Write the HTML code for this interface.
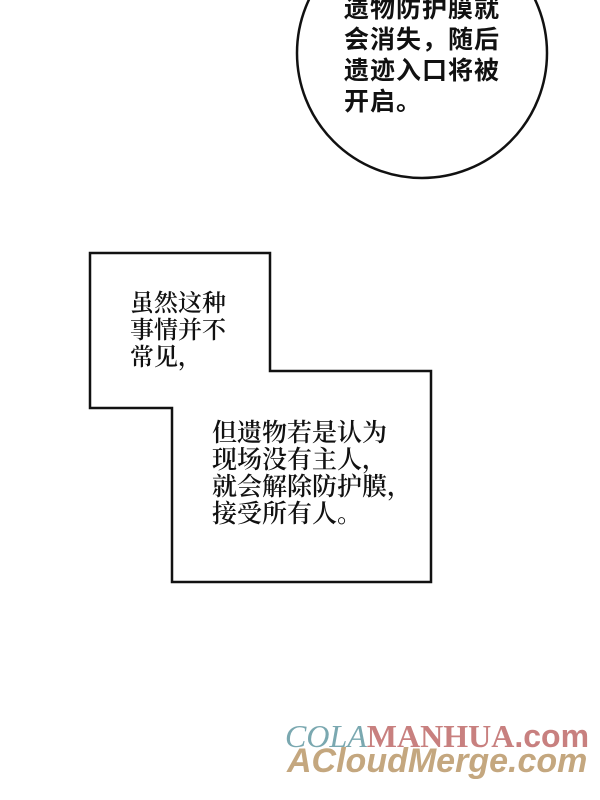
<!DOCTYPE html>
<html><head><meta charset="utf-8"><style>
body{margin:0;width:600px;height:800px;background:#fff;position:relative;overflow:hidden}
.t{position:absolute;white-space:nowrap}
.c{font-family:"Liberation Sans","Noto Sans CJK SC",sans-serif;font-size:25px;line-height:31px;font-weight:bold;color:#111;left:344px;top:-6px;letter-spacing:1px}
.s{font-family:"Noto Serif CJK SC",serif;color:#111;font-size:24px;font-weight:600}
</style></head><body>
<svg width="600" height="800" style="position:absolute;left:0;top:0">
<circle cx="422" cy="53" r="125" fill="#fff" stroke="#111" stroke-width="2.5"/>
<polygon points="90,253 270,253 270,371 431,371 431,582 172,582 172,408 90,408" fill="#fff" stroke="#111" stroke-width="2.5"/>
</svg>
<div class="t c">遗物防护膜就<br>会消失，随后<br>遗迹入口将被<br>开启。</div>
<div class="t s" style="left:130px;top:287px;line-height:27px">虽然这种<br>事情并不<br>常见，</div>
<div class="t s" style="left:212px;top:418px;line-height:27px;font-size:25px">但遗物若是认为<br>现场没有主人，<br>就会解除防护膜，<br>接受所有人。</div>
<div class="t" style="left:285px;top:719px;font-size:32px;line-height:34px;font-family:'Liberation Serif',serif"><span style="color:#7aa8b0;font-style:italic">COLA</span><span style="color:#c8807f;font-weight:bold">MANHUA</span><span style="color:#c8807f;font-weight:bold;font-family:'Liberation Sans',sans-serif">.com</span></div>
<div class="t" style="left:287px;top:743px;font-size:34px;line-height:36px;font-family:'Liberation Sans',sans-serif;font-weight:bold;font-style:italic;color:#c4a77f">ACloudMerge.com</div>
</body></html>
